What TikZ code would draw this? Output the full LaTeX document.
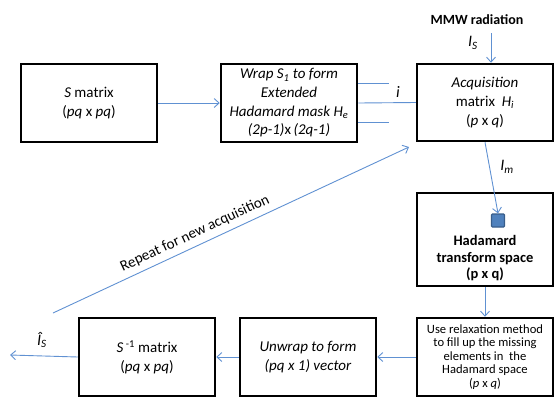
\documentclass[tikz,border=0pt]{standalone}
\usepackage{fontspec}
\setmainfont{Carlito}
\usetikzlibrary{arrows.meta}
\definecolor{lineblue}{RGB}{96,145,210}
\definecolor{sqfill}{RGB}{79,129,189}
\definecolor{sqdraw}{RGB}{56,93,138}
\newcommand\mybxfont{\fontsize{15}{18.7}\selectfont}
\newcommand\myrlxfont{\fontsize{12.6}{13.5}\selectfont}
\newcommand\myhdfont{\fontsize{14.5}{16.5}\selectfont\bfseries}
\newcommand\mylblfont{\fontsize{16}{18}\selectfont\itshape}
\begin{document}
\begin{tikzpicture}[x=1pt,y=-1pt,
  box/.style={draw=black, line width=2.5pt, minimum width=136pt, minimum height=78pt, inner sep=0pt, align=center, font=\mybxfont},
  conn/.style={draw=lineblue, line width=0.9pt},
  arr/.style={conn, -{Straight Barb[length=5pt,width=9pt,line width=0.9pt]}},
  sqbox/.style={draw=sqdraw, fill=sqfill, line width=1.2pt, minimum size=13pt, inner sep=0pt, rounded corners=1pt},
  lbl/.style={inner sep=0pt, font=\mylblfont}
  ]
\clip (0,0) rectangle (554,397);
% boxes
\node[box] (smat) at (89,103) {\textit{S} matrix\\(\textit{pq} x \textit{pq})};
\node[box] (wrap) at (289,103) {\textit{Wrap S\textsubscript{1} to form}\\\textit{Extended}\\\textit{Hadamard mask H\textsubscript{e}}\\\textit{(2p-1)}x\,\textit{(2q-1)}};
\node[box, minimum height=77pt] (acq) at (485,102.5) {\textit{Acquisition}\\matrix\ \ \textit{H\textsubscript{i}}\\(\textit{p} x \textit{q})};
\node[box, minimum height=93pt] (hada) at (485,239.5) {};
\node[inner sep=0pt, align=center, font=\myhdfont] (hadatext) at (485,258.5) {Hadamard\\transform space\\(p x q)};
\node[sqbox] (sq) at (498,220.5) {};
\node[box, font=\myrlxfont] (relax) at (485,357) {Use relaxation method\\to fill up the missing\\elements in\ \ the\\Hadamard space\\(\textit{p} x \textit{q})};
\node[box] (unwrap) at (308,357) {\textit{Unwrap to form}\\\textit{(pq x 1) vector}};
\node[box] (sinv) at (147,357) {\textit{S}\,\textsuperscript{-1} matrix\\(\textit{pq} x \textit{pq})};
% labels
\node[inner sep=0pt, font=\fontsize{14}{16}\selectfont\bfseries] (mmw) at (477,20) {MMW radiation};
\node[lbl] (is) at (473,43) {I\textsubscript{S}};
\node[lbl] (im) at (507,167) {I\textsubscript{m}};
\node[lbl] (ilab) at (398,92) {i};
\node[lbl] (ishat) at (42,340) {Î\textsubscript{S}};
% connectors
\coordinate (mmwtop) at (491,33);
\coordinate (wt) at (389,83);
\coordinate (wb) at (389,122);
\coordinate (out) at (10,355);
\coordinate (rs) at (53,313);
\coordinate (re) at (409,147);
\draw[arr] (smat.east) -- (wrap.west);
\draw[conn] (wrap.east |- wt) -- (wt);
\draw[conn] (wrap.east) -- (acq.west);
\draw[conn] (wrap.east |- wb) -- (wb);
\draw[arr] (mmwtop) -- (acq.north -| mmwtop);
\draw[arr] (acq.south) -- (sq.north);
\draw[arr] (hada.south) -- (relax.north);
\draw[arr] (relax.west) -- (unwrap.east);
\draw[arr] (unwrap.west) -- (sinv.east);
\draw[arr] (sinv.west) -- (out);
\draw[arr] (rs) -- node[sloped, above=2pt, pos=0.413, font=\fontsize{15}{17}\selectfont] (rep) {Repeat for new acquisition} (re);
\end{tikzpicture}
\end{document}
